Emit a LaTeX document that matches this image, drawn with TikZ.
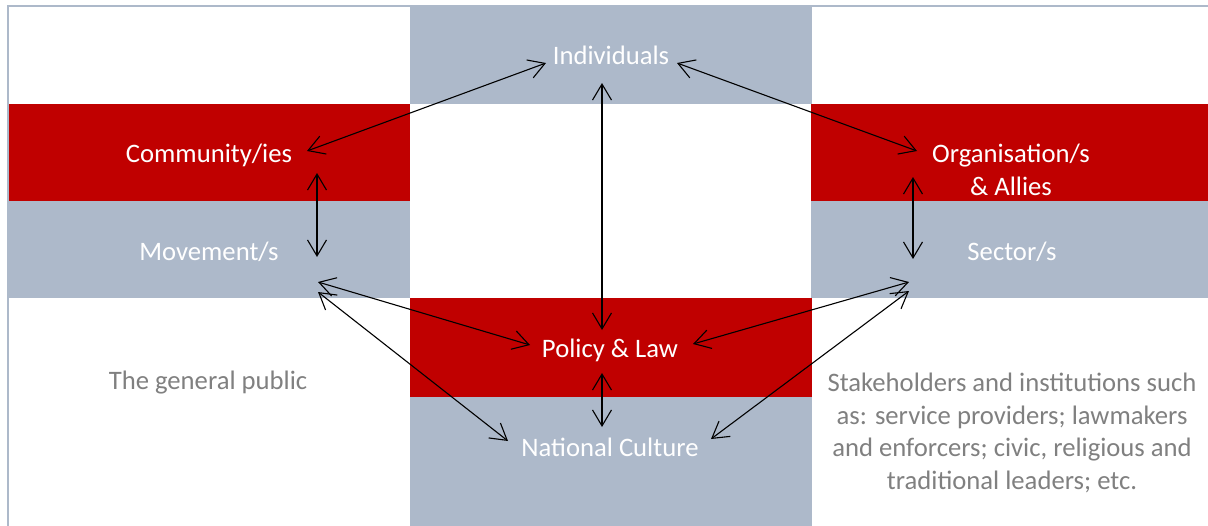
\documentclass[tikz,border=0pt]{standalone}
\usepackage{fontspec}
\setmainfont{Carlito}
\usetikzlibrary{arrows.meta}
\definecolor{brickred}{HTML}{C00000}
\definecolor{slateblue}{HTML}{ADB9CA}
\definecolor{notegray}{HTML}{808080}
\begin{document}
\begin{tikzpicture}[x=1pt,y=-1pt,
  boxtext/.style={text=white,font=\fontsize{26.67}{32.5}\selectfont,align=center,inner sep=0pt},
  notetext/.style={text=notegray,font=\fontsize{26.67}{32.5}\selectfont,align=center,inner sep=0pt},
  link/.style={black,line width=1.1pt,
    arrows={Straight Barb[length=16pt,width=19pt]-Straight Barb[length=16pt,width=19pt]}}]
\useasboundingbox (0,0) rectangle (1208,525);
\clip (0,0) rectangle (1208,525);

% frame and coloured bands
\draw[slateblue,line width=2pt] (8,530) -- (8,6) -- (1220,6);
\fill[slateblue] (410,5) rectangle (812,104);
\fill[brickred] (9,104) rectangle (410,201);
\fill[slateblue] (9,201) rectangle (410,298);
\fill[brickred] (811,104) rectangle (1208,201);
\fill[slateblue] (811,201) rectangle (1208,298);
\fill[brickred] (410,298) rectangle (812,397);
\fill[slateblue] (410,397) rectangle (812,530);

% labels
\node[boxtext] (ind) at (611,55) {Individuals};
\node[boxtext] (com) at (209,155) {Community/ies};
\node[boxtext] (mov) at (209,252) {Movement/s};
\node[boxtext] (org) at (1011,170) {Organisation/s\\\& Allies};
\node[boxtext] (sec) at (1012,252) {Sector/s};
\node[boxtext] (pol) at (610,350) {Policy \& Law};
\node[boxtext] (nat) at (610,447) {National Culture};
\node[notetext] (pub) at (208,383) {The general public};
\node[notetext] (stk) at (1012,433) {Stakeholders and institutions such\\as: service providers; lawmakers\\and enforcers; civic, religious and\\traditional leaders; etc.};

% connectors
\draw[link] ([shift={(-65,8)}]ind.center) -- ([shift={(98,-4)}]com.center);
\draw[link] ([shift={(66,8)}]ind.center) -- ([shift={(-94,-19)}]org.center);
\draw[link] ([shift={(-9,28)}]ind.center) -- ([shift={(-8,-20)}]pol.center);
\draw[link] ([shift={(108,18)}]com.center) -- ([shift={(108,5)}]mov.center);
\draw[link] ([shift={(-98,7)}]org.center) -- ([shift={(-99,7)}]sec.center);
\draw[link] ([shift={(109,30)}]mov.center) -- ([shift={(-80,-5)}]pol.center);
\draw[link] ([shift={(109,40)}]mov.center) -- ([shift={(-102,-6)}]nat.center);
\draw[link] ([shift={(-103,30)}]sec.center) -- ([shift={(83,-6)}]pol.center);
\draw[link] ([shift={(-103,39)}]sec.center) -- ([shift={(101,-8)}]nat.center);
\draw[link] ([shift={(-8,23)}]pol.center) -- ([shift={(-8,-20)}]nat.center);
\end{tikzpicture}
\end{document}
